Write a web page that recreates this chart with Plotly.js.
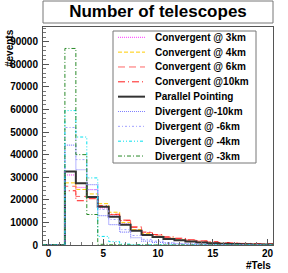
<!DOCTYPE html>
<html>
<head>
<meta charset="utf-8">
<script src="https://cdn.plot.ly/plotly-3.0.1.min.js"></script>
<style>html,body{margin:0;padding:0;background:#fff;}#chart{width:288px;height:273px;}</style>
</head>
<body>
<div id="chart"></div>
<script>
// bins (number of telescopes)
var tels = [0,1,2,3,4,5,6,7,8,9,10,11,12,13,14,15,16,17,18,19,20];

var seriesNames = ["Convergent @ 3km","Convergent @ 4km","Convergent @ 6km","Convergent @10km",
  "Parallel Pointing","Divergent @-10km","Divergent @ -6km","Divergent @ -4km","Divergent @ -3km"];

var conv3  = [0,0,31000,25500,24500,16400,12800,9300,6600,4700,3700,2800,2200,1600,1200,900,700,500,400,300,250];
var conv4  = [0,0,27500,24600,22600,18300,14500,10000,6800,5000,3900,3000,2300,1700,1300,1000,750,600,450,350,280];
var conv6  = [0,0,26000,21500,21000,17000,13500,10800,7800,5500,4400,3400,2800,2100,1700,1300,1000,800,650,550,450];
var conv10 = [0,0,24000,19600,20500,17400,13600,11000,8000,5700,4600,3600,3000,2300,1800,1400,1100,900,700,600,500];
var parallel = [0,0,32500,27300,21300,16900,12500,9000,6300,4400,3500,2700,2100,1500,1100,800,600,450,350,250,200];
var div10  = [0,0,44200,33300,26700,13000,9000,5700,3200,1700,1200,800,500,350,250,150,100,80,50,40,30];
var div6   = [0,0,52000,37800,24500,15700,11300,6800,4200,2500,1700,1100,700,500,350,250,150,100,80,60,40];
var div4   = [0,0,59500,47800,29700,3800,1500,400,150,80,50,30,20,10,0,0,0,0,0,0,0];
var div3   = [0,0,87000,40000,13500,300,100,50,20,10,0,0,0,0,0,0,0,0,0,0,0];

var yTicks = [0,10000,20000,30000,40000,50000,60000,70000,80000,90000];
var xTicks = [0,5,10,15,20];

var allData = [conv3,conv4,conv6,conv10,parallel,div10,div6,div4,div3];
var styles = [
  {color:'#ff33ff', dash:'1px,1px', width:1},
  {color:'#ffcc00', dash:'4px,2px', width:1},
  {color:'#ff6666', dash:'7px,4px', width:1},
  {color:'#ff1a1a', dash:'7px,3px,1px,3px', width:1},
  {color:'#333333', dash:'solid', width:2},
  {color:'#8080ff', dash:'1px,1px', width:1.2},
  {color:'#a0a0ff', dash:'2px,2px,1px,2px', width:1},
  {color:'#00e0ee', dash:'3px,2px,1px,2px,1px,2px', width:1},
  {color:'#2a8a2a', dash:'4px,2px,1px,2px', width:1}
];

var font = "'Liberation Sans', Arial, Helvetica, sans-serif";

function stepTrace(vals, st) {
  var xs = [], ys = [];
  for (var i = 0; i < tels.length; i++) { xs.push(tels[i] - 0.5); ys.push(vals[i]); }
  xs.push(tels[tels.length-1] + 0.5); ys.push(vals[vals.length-1]);
  return {x: xs, y: ys, type:'scatter', mode:'lines', line:{shape:'hv', color:st.color, dash:st.dash, width:st.width},
    showlegend:false, hoverinfo:'skip'};
}

var traces = allData.map(function(d,i){ return stepTrace(d, styles[i]); });

// pixel -> paper helpers (plot area: x 43..273, y 27..245)
var L = 43, R = 273, T = 27, B = 245;
function px(x){ return (x - L) / (R - L); }
function py(y){ return (B - y) / (B - T); }

var shapes = [
  // title box
  {type:'rect', xref:'paper', yref:'paper', x0:0, x1:1, y0:py(23), y1:py(1), line:{color:'#777', width:1}, fillcolor:'#fff', layer:'below'},
  // legend box
  {type:'rect', xref:'paper', yref:'paper', x0:px(113), x1:px(256), y0:py(163), y1:py(31), line:{color:'#777', width:1}, fillcolor:'#fff', layer:'above'}
];
var annotations = [
  {text:'#events', xref:'paper', yref:'paper', x:px(9), y:py(27), xanchor:'center', yanchor:'top', textangle:-90, showarrow:false,
    font:{family:font, size:10, color:'#000', weight:'bold'}},
  {text:'#Tels', xref:'paper', yref:'paper', x:px(273), y:py(265), xanchor:'right', yanchor:'middle', showarrow:false,
    font:{family:font, size:10, color:'#000', weight:'bold'}}
];
for (var i = 0; i < seriesNames.length; i++) {
  var yy = 37.3 + 14.84 * i;
  shapes.push({type:'line', xref:'paper', yref:'paper', x0:px(118), x1:px(145), y0:py(yy), y1:py(yy),
    line:{color:styles[i].color, dash:styles[i].dash, width:styles[i].width}, layer:'above'});
  annotations.push({text:seriesNames[i], xref:'paper', yref:'paper', x:px(152.5), y:py(yy), xanchor:'left', yanchor:'middle',
    showarrow:false, font:{family:font, size:10, color:'#000', weight:'bold'}});
}

var layout = {
  width:288, height:273,
  margin:{l:43, r:15, t:27, b:28, pad:0},
  paper_bgcolor:'#fff', plot_bgcolor:'#fff',
  showlegend:false,
  title:{text:'Number of telescopes', font:{family:font, size:17, color:'#000', weight:'bold'},
    xref:'paper', x:0.5, xanchor:'center', y:1-11.5/273, yanchor:'middle'},
  xaxis:{range:[-0.5,20.5], tickvals:xTicks, ticktext:xTicks.map(String), ticks:'inside', ticklen:6, tickcolor:'#555',
    showline:true, linecolor:'#555', linewidth:1, mirror:true, showgrid:false, zeroline:false, ticklabelstandoff:-1,
    minor:{dtick:1, tick0:0, ticks:'inside', ticklen:3, tickcolor:'#777', showgrid:false},
    tickfont:{family:font, size:10, color:'#000', weight:'bold'}},
  yaxis:{range:[0,96500], tickvals:yTicks, ticktext:yTicks.map(String), ticks:'inside', ticklen:6, tickcolor:'#555',
    showline:true, linecolor:'#555', linewidth:1, mirror:true, showgrid:false, zeroline:false, ticklabelstandoff:2,
    minor:{dtick:2000, tick0:0, ticks:'inside', ticklen:3, tickcolor:'#777', showgrid:false},
    tickfont:{family:font, size:10, color:'#000', weight:'bold'}},
  shapes:shapes,
  annotations:annotations
};

Plotly.newPlot('chart', traces, layout, {displayModeBar:false, staticPlot:true});
</script>
</body>
</html>
